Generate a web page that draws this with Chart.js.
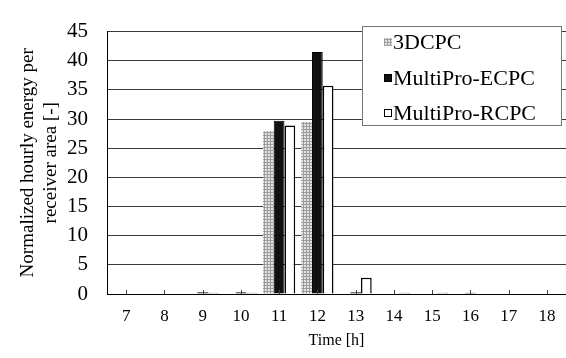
<!DOCTYPE html>
<html>
<head>
<meta charset="utf-8">
<script src="https://cdn.jsdelivr.net/npm/chart.js@4"></script>
<style>
    html, body { margin: 0; padding: 0; background: #fff; }
    #wrap { width: 566px; height: 358px; position: relative; }
</style>
</head>
<body>
<div id="wrap"><canvas id="chartEnergia"></canvas></div>
<script>
// Energía horaria normalizada por área del receptor, tres concentradores
const HORAS = ['7', '8', '9', '10', '11', '12', '13', '14', '15', '16', '17', '18'];
const SERIE_3DCPC = [0, 0, 0.1, 0.1, 27.9, 29.5, 0.1, 0, 0, 0, 0, 0];
const SERIE_ECPC  = [0, 0, 0.3, 0.3, 29.7, 41.5, 0.3, 0.1, 0.1, 0.2, 0, 0];
const SERIE_RCPC  = [0, 0, 0.2, 0.2, 28.9, 35.7, 2.8, 0.2, 0.2, 0, 0, 0];
const ETIQUETAS = ['3DCPC', 'MultiPro-ECPC', 'MultiPro-RCPC'];

const FUENTE = '"Liberation Serif", "Times New Roman", serif';

// Cuadriculado gris para la serie 3DCPC
function crearTrama() {
    const c = document.createElement('canvas');
    c.width = 3; c.height = 3;
    const g = c.getContext('2d');
    g.fillStyle = '#e2e2e2';
    g.fillRect(0, 0, 3, 3);
    g.fillStyle = '#9c9c9c';
    g.fillRect(0, 0, 3, 1);
    g.fillRect(0, 0, 1, 3);
    return g.createPattern(c, 'repeat');
}

const ctx = document.getElementById('chartEnergia').getContext('2d');
const trama = crearTrama();

// Marcas cortas hacia dentro sobre el eje X, en el centro de cada hora
const marcasInternas = {
    id: 'marcasInternas',
    afterDatasetsDraw(chart) {
        const x = chart.scales.x;
        const base = chart.chartArea.bottom;
        const c = chart.ctx;
        c.save();
        c.strokeStyle = '#444';
        c.lineWidth = 1;
        HORAS.forEach((h, i) => {
            const px = Math.round(x.getPixelForValue(i)) + 0.5;
            c.beginPath();
            c.moveTo(px, base);
            c.lineTo(px, base - 4);
            c.stroke();
        });
        c.restore();
    }
};

// Leyenda con recuadro dentro del área del gráfico
const leyendaRecuadro = {
    id: 'leyendaRecuadro',
    afterDraw(chart) {
        const c = chart.ctx;
        const estilos = [
            { fill: trama, stroke: null },
            { fill: '#111', stroke: '#000' },
            { fill: '#fff', stroke: '#000' },
        ];
        const filas = [42, 78, 113];
        c.save();
        c.fillStyle = '#fff';
        c.fillRect(362, 26, 199, 99);
        c.strokeStyle = '#777';
        c.lineWidth = 1;
        c.strokeRect(362.5, 26.5, 199, 99);
        c.font = `22px ${FUENTE}`;
        c.textBaseline = 'middle';
        ETIQUETAS.forEach((txt, i) => {
            const y = filas[i];
            c.fillStyle = estilos[i].fill;
            c.fillRect(384, y - 4, 8, 8);
            if (estilos[i].stroke) {
                c.strokeStyle = estilos[i].stroke;
                c.strokeRect(384.5, y - 3.5, 7, 7);
            }
            c.fillStyle = '#000';
            c.fillText(txt, 393, y + 1);
        });
        c.restore();
    }
};

new Chart(ctx, {
    type: 'bar',
    data: {
        labels: HORAS,
        datasets: [
            {
                label: ETIQUETAS[0],
                data: SERIE_3DCPC,
                backgroundColor: trama,
                borderWidth: 0,
            },
            {
                label: ETIQUETAS[1],
                data: SERIE_ECPC,
                backgroundColor: '#111',
                borderColor: '#000',
                borderWidth: 1,
            },
            {
                label: ETIQUETAS[2],
                data: SERIE_RCPC,
                backgroundColor: '#fff',
                borderColor: '#000',
                borderWidth: 1.5,
            },
        ],
    },
    options: {
        responsive: true,
        maintainAspectRatio: false,
        animation: false,
        layout: { padding: { top: 19, right: 0, left: 0, bottom: 0 } },
        datasets: {
            bar: { categoryPercentage: 0.84, barPercentage: 1.0, borderSkipped: 'start' },
        },
        plugins: {
            legend: { display: false },
            tooltip: { enabled: false },
        },
        scales: {
            x: {
                grid: { display: false, drawTicks: false },
                border: { display: true, color: '#000', width: 1 },
                ticks: { color: '#000', padding: 12, font: { family: FUENTE, size: 17 } },
                title: {
                    display: true,
                    text: 'Time [h]',
                    color: '#000',
                    font: { family: FUENTE, size: 16 },
                    padding: { top: 0, bottom: 8 },
                },
                afterFit(scale) {
                    scale.height = 64;
                    scale.paddingRight = 0;
                    scale.paddingLeft = 0;
                },
            },
            y: {
                min: 0,
                max: 45,
                ticks: { stepSize: 5, color: '#000', padding: 19, font: { family: FUENTE, size: 21 } },
                grid: { color: '#3a3a3a', lineWidth: 1, drawTicks: false },
                border: { display: true, color: '#000', width: 1 },
                title: {
                    display: true,
                    text: ['Normalized hourly energy per', 'receiver area [-]'],
                    color: '#000',
                    font: { family: FUENTE, size: 19, lineHeight: 1.2 },
                    padding: { top: 17, bottom: 0 },
                },
                afterFit(scale) {
                    scale.width = 107;
                },
            },
        },
    },
    plugins: [marcasInternas, leyendaRecuadro],
});
</script>
</body>
</html>
